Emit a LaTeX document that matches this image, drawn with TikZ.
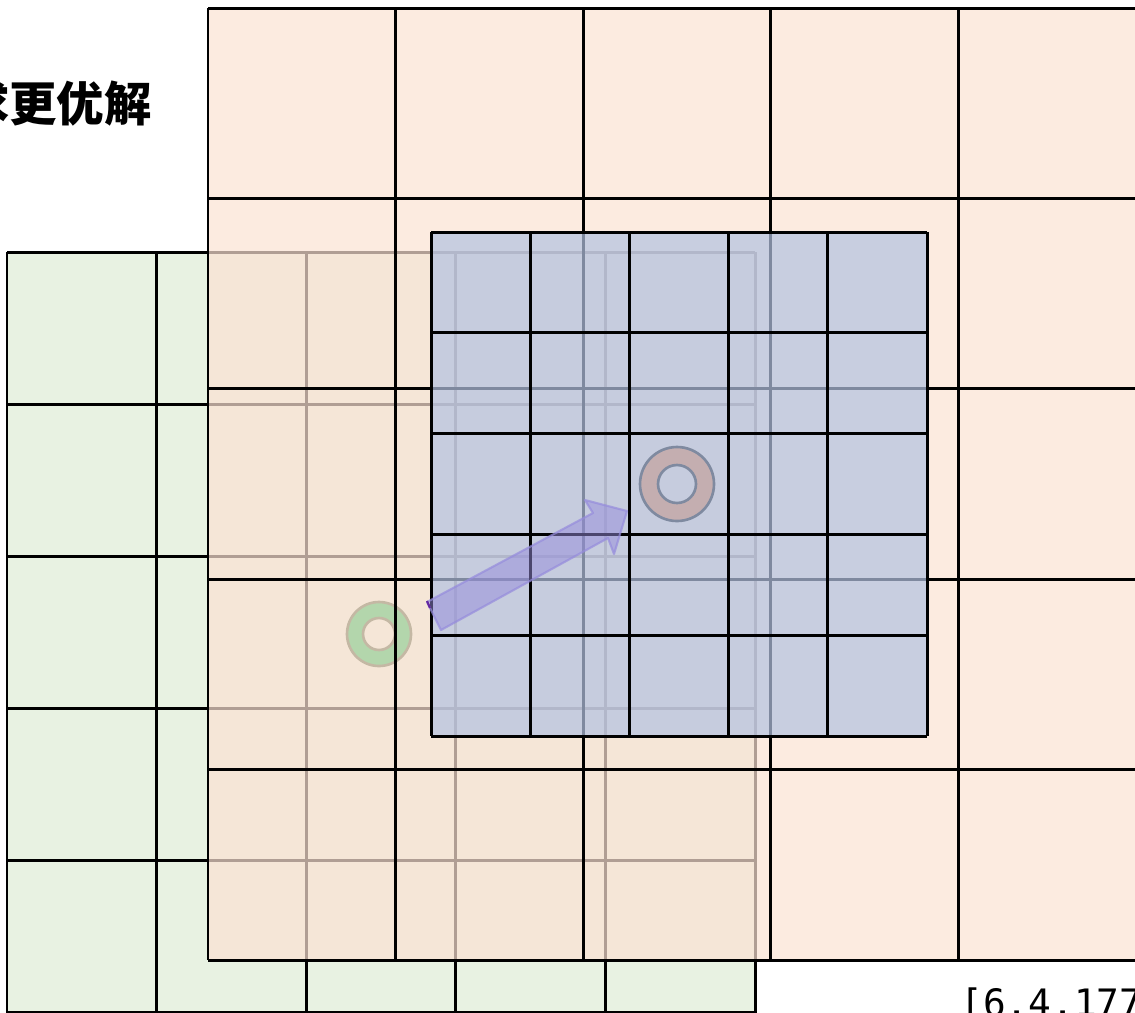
\documentclass[tikz,border=0pt]{standalone}
\usepackage{fontspec}
\setmainfont{Noto Sans}
\setmonofont{DejaVu Sans Mono}
\newfontfamily\cjk{Noto Sans CJK SC}
\definecolor{gridgreen}{RGB}{232,242,226}
\definecolor{gridorange}{RGB}{251,226,211}
\definecolor{gridblue}{RGB}{179,194,225}
\definecolor{ringgreen}{RGB}{179,214,172}
\definecolor{ringgreenline}{RGB}{196,184,164}
\definecolor{ringred}{RGB}{196,174,176}
\definecolor{ringredline}{RGB}{127,138,160}
\definecolor{movepurple}{RGB}{150,140,220}
\definecolor{movedark}{RGB}{100,40,160}
\begin{document}
\begin{tikzpicture}[x=0.02cm,y=-0.02cm,
    cell/.style={line width=1.7pt},
    ring/.style={line width=1.5pt, even odd rule}]
    \useasboundingbox (0,0) rectangle (1135,1012);
    \clip (0,0) rectangle (1135,1012);
    % green layer
    \fill[gridgreen] (7,252) rectangle (755,1100);
    \foreach \i in {0,...,5} \draw[cell] ({7+149.6*\i},252) -- ({7+149.6*\i},1100);
    \foreach \j in {0,...,5} \draw[cell] (7,{252+152*\j}) -- (755,{252+152*\j});
    % orange layer
    \fill[gridorange, fill opacity=0.7] (208,8) rectangle (1200,960);
    \draw[ring, draw=ringgreenline, fill=ringgreen] (379,634) circle[radius=32] (379,634) circle[radius=16];
    \foreach \i in {0,...,5} \draw[cell] ({208+187.5*\i},8) -- ({208+187.5*\i},960);
    \foreach \j in {0,...,5} \draw[cell] (208,{8+190.4*\j}) -- (1200,{8+190.4*\j});
    % blue layer
    \fill[gridblue, fill opacity=0.71] (431,232) rectangle (927,736);
    \draw[ring, draw=ringredline, fill=ringred] (677,484) circle[radius=37] (677,484) circle[radius=19];
    \foreach \i in {0,...,5} \draw[cell] ({431+99.2*\i},232) -- ({431+99.2*\i},736);
    \foreach \j in {0,...,5} \draw[cell] (431,{232+100.8*\j}) -- (927,{232+100.8*\j});
    % move arrow
    \draw[line width=1.2pt, draw=movepurple, draw opacity=0.7, fill=movepurple, fill opacity=0.5, line join=round]
        (427,602) -- (441,630) -- (608,538) -- (614,554) -- (627,511) -- (585,500) -- (593,513) -- cycle;
    \draw[line width=1.2pt, movedark] (427,601) -- (430,608);
    \node[anchor=east, font=\cjk\bfseries\fontsize{27}{31}\selectfont] (title) at (158,103) {寻求更优解};
    \node[anchor=base west, inner sep=0pt, font=\ttfamily\fontsize{21.5}{25}\selectfont] (coords) at (960,1016) {[6,4,177};
\end{tikzpicture}
\end{document}
